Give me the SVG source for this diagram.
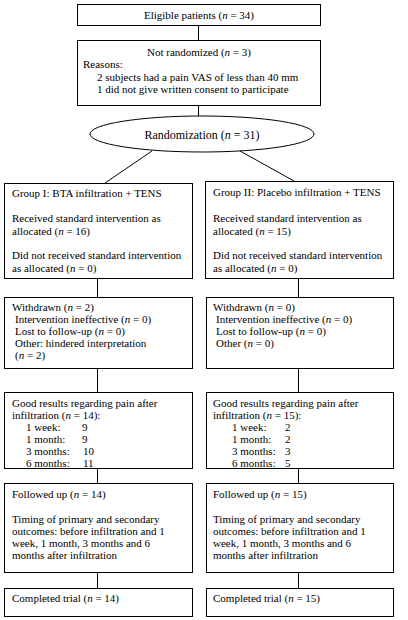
<svg xmlns="http://www.w3.org/2000/svg" width="408" height="620" viewBox="0 0 408 620">
<style>
.b{fill:#fff;stroke:#000;stroke-width:1}
.t{font-family:"Liberation Serif","Times New Roman",serif;font-size:11px;fill:#000}
.c{text-anchor:middle}
.l{stroke:#000;stroke-width:1;fill:none}
</style>
<rect width="408" height="620" fill="#fff"/>
<g id="connectors">
<line class="l" x1="198.5" y1="25" x2="198.5" y2="40"/>
<line class="l" x1="198.5" y1="105" x2="198.5" y2="117"/>
<line class="l" x1="152" y1="151" x2="105" y2="183"/>
<line class="l" x1="240" y1="151" x2="294" y2="181"/>
<line class="l" x1="97.5" y1="278" x2="97.5" y2="297"/>
<line class="l" x1="298.5" y1="279" x2="298.5" y2="297"/>
<line class="l" x1="97.5" y1="368" x2="97.5" y2="392"/>
<line class="l" x1="298.5" y1="368" x2="298.5" y2="392"/>
<line class="l" x1="97.5" y1="468" x2="97.5" y2="483"/>
<line class="l" x1="298.5" y1="468" x2="298.5" y2="483"/>
<line class="l" x1="97.5" y1="572" x2="97.5" y2="588"/>
<line class="l" x1="298.5" y1="572" x2="298.5" y2="588"/>
</g>
<g id="eligible">
<rect class="b" x="77.5" y="4.5" width="243" height="21"/>
<text class="t c" x="199" y="19">Eligible patients (<tspan font-style="italic">n</tspan> = 34)</text>
</g>
<g id="notrandomized">
<rect class="b" x="77.5" y="40.5" width="243" height="65"/>
<text class="t c" x="199" y="56">Not randomized (<tspan font-style="italic">n</tspan> = 3)</text>
<text class="t" x="83" y="68">Reasons:</text>
<text class="t" x="97" y="80.5">2 subjects had a pain VAS of less than 40 mm</text>
<text class="t" x="97" y="93">1 did not give written consent to participate</text>
</g>
<g id="randomization">
<ellipse class="b" cx="202" cy="134" rx="112" ry="18"/>
<text class="t c" x="202" y="138.5" style="font-size:12px">Randomization (<tspan font-style="italic">n</tspan> = 31)</text>
</g>
<g id="group1">
<rect class="b" x="4.5" y="183.5" width="188" height="95"/>
<text class="t" x="12" y="197">Group I: BTA infiltration + TENS</text>
<text class="t" x="12" y="222">Received standard intervention as</text>
<text class="t" x="12" y="234.5">allocated (<tspan font-style="italic">n</tspan> = 16)</text>
<text class="t" x="12" y="259">Did not received standard intervention</text>
<text class="t" x="12" y="271.5">as allocated (<tspan font-style="italic">n</tspan> = 0)</text>
</g>
<g id="group2">
<rect class="b" x="205.5" y="181.5" width="188" height="97"/>
<text class="t" x="213" y="196">Group II: Placebo infiltration + TENS</text>
<text class="t" x="213" y="222">Received standard intervention as</text>
<text class="t" x="213" y="234.5">allocated (<tspan font-style="italic">n</tspan> = 15)</text>
<text class="t" x="213" y="259">Did not received standard intervention</text>
<text class="t" x="213" y="271.5">as allocated (<tspan font-style="italic">n</tspan> = 0)</text>
</g>
<g id="withdrawn1">
<rect class="b" x="4.5" y="297.5" width="188" height="71"/>
<text class="t" x="12" y="311">Withdrawn (<tspan font-style="italic">n</tspan> = 2)</text>
<text class="t" x="15" y="323">Intervention ineffective (<tspan font-style="italic">n</tspan> = 0)</text>
<text class="t" x="15" y="335">Lost to follow-up (<tspan font-style="italic">n</tspan> = 0)</text>
<text class="t" x="15" y="347">Other: hindered interpretation</text>
<text class="t" x="15" y="359">(<tspan font-style="italic">n</tspan> = 2)</text>
</g>
<g id="withdrawn2">
<rect class="b" x="206.5" y="297.5" width="187" height="71"/>
<text class="t" x="213" y="311">Withdrawn (<tspan font-style="italic">n</tspan> = 0)</text>
<text class="t" x="216" y="323">Intervention ineffective (<tspan font-style="italic">n</tspan> = 0)</text>
<text class="t" x="216" y="335">Lost to follow-up (<tspan font-style="italic">n</tspan> = 0)</text>
<text class="t" x="216" y="347">Other (<tspan font-style="italic">n</tspan> = 0)</text>
</g>
<g id="good1">
<rect class="b" x="4.5" y="392.5" width="188" height="76"/>
<text class="t" x="12" y="407">Good results regarding pain after</text>
<text class="t" x="12" y="419">infiltration (<tspan font-style="italic">n</tspan> = 14):</text>
<text class="t" x="26" y="431">1 week:</text><text class="t" x="82" y="431">9</text>
<text class="t" x="26" y="443">1 month:</text><text class="t" x="82" y="443">9</text>
<text class="t" x="26" y="455">3 months:</text><text class="t" x="83" y="455">10</text>
<text class="t" x="26" y="467">6 months:</text><text class="t" x="83" y="467">11</text>
</g>
<g id="good2">
<rect class="b" x="206.5" y="392.5" width="187" height="76"/>
<text class="t" x="213" y="407">Good results regarding pain after</text>
<text class="t" x="213" y="419">infiltration (<tspan font-style="italic">n</tspan> = 15):</text>
<text class="t" x="232" y="431">1 week:</text><text class="t" x="285" y="431">2</text>
<text class="t" x="232" y="443">1 month:</text><text class="t" x="285" y="443">2</text>
<text class="t" x="232" y="455">3 months:</text><text class="t" x="285" y="455">3</text>
<text class="t" x="232" y="467">6 months:</text><text class="t" x="285" y="467">5</text>
</g>
<g id="followed1">
<rect class="b" x="4.5" y="483.5" width="188" height="89"/>
<text class="t" x="12" y="498">Followed up (<tspan font-style="italic">n</tspan> = 14)</text>
<text class="t" x="12" y="523">Timing of primary and secondary</text>
<text class="t" x="12" y="535">outcomes: before infiltration and 1</text>
<text class="t" x="12" y="547">week, 1 month, 3 months and 6</text>
<text class="t" x="12" y="559">months after infiltration</text>
</g>
<g id="followed2">
<rect class="b" x="206.5" y="483.5" width="187" height="89"/>
<text class="t" x="213" y="498">Followed up (<tspan font-style="italic">n</tspan> = 15)</text>
<text class="t" x="213" y="523">Timing of primary and secondary</text>
<text class="t" x="213" y="535">outcomes: before infiltration and 1</text>
<text class="t" x="213" y="547">week, 1 month, 3 months and 6</text>
<text class="t" x="213" y="559">months after infiltration</text>
</g>
<g id="completed1">
<rect class="b" x="4.5" y="588.5" width="188" height="28"/>
<text class="t" x="12" y="602">Completed trial (<tspan font-style="italic">n</tspan> = 14)</text>
</g>
<g id="completed2">
<rect class="b" x="206.5" y="588.5" width="187" height="28"/>
<text class="t" x="213" y="602">Completed trial (<tspan font-style="italic">n</tspan> = 15)</text>
</g>
</svg>
